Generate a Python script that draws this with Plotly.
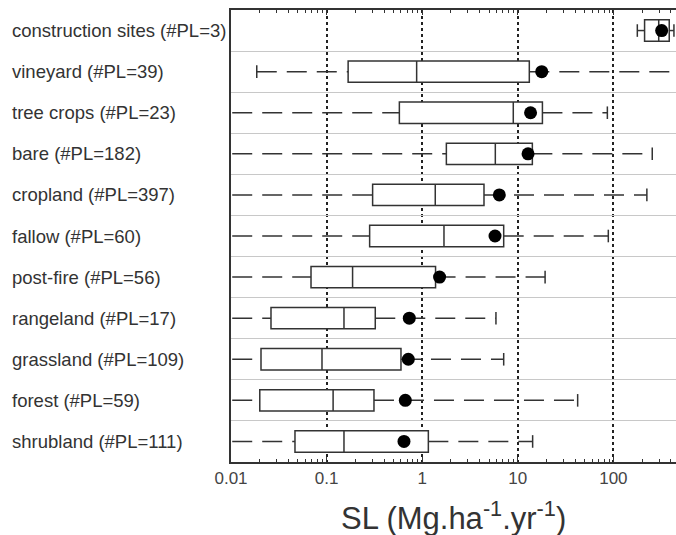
import plotly.graph_objects as go

categories = ["construction sites (#PL=3)", "vineyard (#PL=39)", "tree crops (#PL=23)",
              "bare (#PL=182)", "cropland (#PL=397)", "fallow (#PL=60)",
              "post-fire (#PL=56)", "rangeland (#PL=17)", "grassland (#PL=109)",
              "forest (#PL=59)", "shrubland (#PL=111)"]
min_vals = [178, 0.0186, 0.005, 0.005, 0.005, 0.005, 0.005, 0.005, 0.005, 0.005, 0.005]
q1_vals = [212, 0.168, 0.577, 1.79, 0.303, 0.282, 0.0687, 0.0262, 0.0206, 0.020, 0.0467]
median_vals = [298, 0.875, 8.97, 5.82, 1.37, 1.69, 0.187, 0.152, 0.0895, 0.117, 0.152]
q3_vals = [384, 13.2, 18.1, 14.2, 4.43, 7.12, 1.38, 0.323, 0.60, 0.313, 1.16]
max_vals = [430, 600, 86.5, 255, 224, 88.5, 19.3, 5.91, 7.12, 42.3, 14.3]
mean_vals = [320, 17.8, 13.6, 12.8, 6.41, 5.78, 1.52, 0.733, 0.716, 0.666, 0.645]

tick_vals = [0.01, 0.1, 1, 10, 100]
tick_text = ["0.01", "0.1", "1", "10", "100"]

pos = list(range(len(categories)))
INK = "#333333"
FONT = "Liberation Sans, Arial, sans-serif"

fig = go.Figure()

# boxes (no built-in whiskers)
fig.add_trace(go.Box(
    y=pos, q1=q1_vals, median=median_vals, q3=q3_vals,
    lowerfence=q1_vals, upperfence=q3_vals,
    orientation="h", width=0.52, fillcolor="white",
    line=dict(color=INK, width=1.5), boxpoints=False,
    hoverinfo="skip", showlegend=False))

# dashed whiskers
wx, wy = [], []
for i in pos:
    wx += [min_vals[i], q1_vals[i], None, q3_vals[i], max_vals[i], None]
    wy += [i, i, None, i, i, None]
fig.add_trace(go.Scatter(x=wx, y=wy, mode="lines",
                         line=dict(color=INK, width=1.5, dash="20px,10px"),
                         hoverinfo="skip", showlegend=False))

# whisker caps
cx, cy = [], []
for i in pos:
    cx += [min_vals[i], max_vals[i]]
    cy += [i, i]
fig.add_trace(go.Scatter(x=cx, y=cy, mode="markers",
                         marker=dict(symbol="line-ns", size=9,
                                     line=dict(color=INK, width=1.5)),
                         hoverinfo="skip", showlegend=False))

# means
fig.add_trace(go.Scatter(x=mean_vals, y=pos, mode="markers",
                         marker=dict(symbol="circle", size=13, color="black"),
                         hoverinfo="skip", showlegend=False))

minor_vals = [m * 10 ** e for e in range(-2, 3) for m in range(2, 10)]

fig.update_xaxes(type="log", range=[-2, 2.655],
                 tickmode="array", tickvals=tick_vals, ticktext=tick_text,
                 ticks="inside", ticklen=5, tickcolor=INK, tickwidth=1.2,
                 showline=True, linecolor=INK, linewidth=1.5, mirror="allticks",
                 showgrid=True, gridcolor="#222222", gridwidth=1.5, griddash="dot",
                 minor=dict(tickmode="array", tickvals=minor_vals, ticks="inside",
                            ticklen=3, tickcolor=INK, showgrid=False),
                 tickfont=dict(family=FONT, size=17, color="#444444"),
                 zeroline=False)
fig.update_yaxes(range=[len(categories) - 0.5, -0.5],
                 tickmode="array", tickvals=[i + 0.5 for i in pos[:-1]],
                 showticklabels=False, ticks="",
                 showgrid=True, gridcolor="#c8c8c8", gridwidth=1,
                 showline=True, linecolor=INK, linewidth=1.5, zeroline=False)

for i, c in enumerate(categories):
    fig.add_annotation(text=c, xref="paper", yref="y", x=(10 - 231) / 445, y=i,
                       xanchor="left", yanchor="middle", showarrow=False,
                       font=dict(family=FONT, size=18.5, color="#333333"))

fig.add_annotation(text="SL (Mg.ha<sup>-1</sup>.yr<sup>-1</sup>)", xref="paper", yref="paper",
                   x=0.501, y=-(516 - 462) / 452, xanchor="center", yanchor="middle",
                   showarrow=False,
                   font=dict(family=FONT, size=31, color="#333333"))

fig.update_layout(width=676, height=535, margin=dict(l=231, r=0, t=10, b=73),
                  plot_bgcolor="white", paper_bgcolor="white", showlegend=False)

fig.write_html("out.html", config={"displayModeBar": False},
               post_script="document.body.style.margin='0';document.body.style.overflow='hidden';")
